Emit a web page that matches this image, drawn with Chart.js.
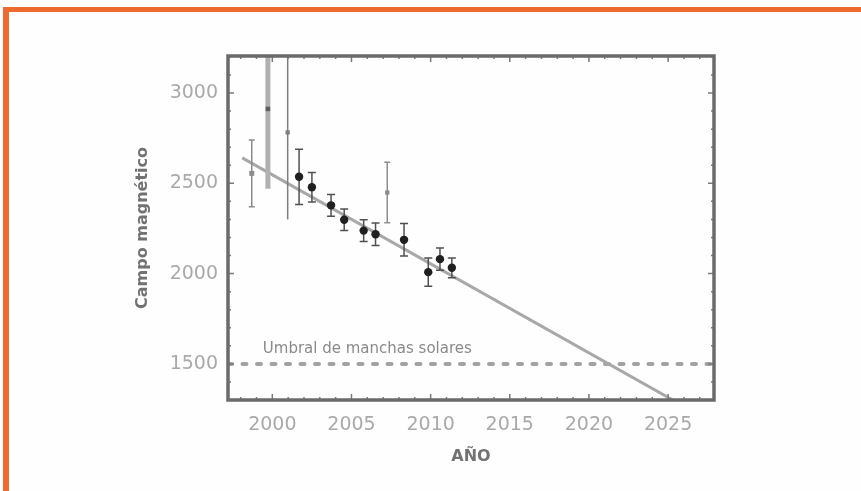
<!DOCTYPE html>
<html>
<head>
<meta charset="utf-8">
<script src="https://cdn.jsdelivr.net/npm/chart.js@4/dist/chart.umd.min.js"></script>
<style>
html, body { margin: 0; padding: 0; background: #ffffff; }
#wrap { position: relative; width: 861px; height: 491px; overflow: hidden; background: #fefefe; }
#c { position: absolute; left: 0; top: 0; }
#frame { position: absolute; left: 3px; top: 7px; right: -10px; bottom: -10px;
  border-top: 5px solid #ee6a2f; border-left: 6px solid #ee6a2f; pointer-events: none; }
</style>
</head>
<body>
<div id="wrap">
  <canvas id="c" width="861" height="491"></canvas>
  <div id="frame"></div>
</div>
<script>
// ---- data ----
const years       = [1998.7, 1999.72, 2000.97, 2001.69, 2002.5, 2003.71, 2004.54, 2005.77, 2006.52, 2007.26, 2008.32, 2009.85, 2010.59, 2011.34];
const fieldValues = [2555, 2912, 2782, 2536, 2478, 2378, 2298, 2238, 2218, 2449, 2187, 2008, 2080, 2032];
const fieldErrors = [185, 442, 482, 153, 82, 60, 60, 60, 62, 168, 90, 78, 62, 55];
const fitYears    = [1998.1, 2025.6];
const fitValues   = [2641, 1285];
const thresholdValue = 1500;
const thresholdLabel = 'Umbral de manchas solares';
const thresholdLabelYear = 1999.4;
const xTicks = [2000, 2005, 2010, 2015, 2020, 2025];
const yTicks = [1500, 2000, 2500, 3000];
const xMin = 1997.2, xMax = 2027.9;
const yMin = 1300, yMax = 3205;
const xTitle = 'AÑO';
const yTitle = 'Campo magnético';

// ---- styles (per point) ----
const markerColors = ['#8c8c8c','#5e5e5e','#7c7c7c','#202020','#202020','#202020','#202020','#202020','#202020','#8a8a8a','#202020','#202020','#202020','#202020'];
const markerShapes = ['rect','rect','rect','circle','circle','circle','circle','circle','circle','rect','circle','circle','circle','circle'];
const markerSizes  = [3.5, 3.2, 3, 4.2, 4.2, 4.2, 4.2, 4.2, 4.2, 3, 4.2, 4.2, 4.2, 4.2];
const barColors    = ['#8a8a8a','#b0b0b0','#7e7e7e','#505050','#505050','#505050','#505050','#505050','#505050','#8e8e8e','#505050','#505050','#505050','#505050'];
const barWidths    = [1.5, 5, 1.5, 1.5, 1.5, 1.5, 1.5, 1.5, 1.5, 1.5, 1.5, 1.5, 1.5, 1.5];
const capHalf      = [3, 0, 0, 4, 4, 4, 4, 4, 4, 3, 4, 4, 4, 4];

const pointsData = years.map((x, i) => ({ x: x, y: fieldValues[i] }));
const fitData = fitYears.map((x, i) => ({ x: x, y: fitValues[i] }));
const thresholdData = [{ x: xMin, y: thresholdValue }, { x: xMax, y: thresholdValue }];

const errorBarPlugin = {
  id: 'errorBars',
  beforeDatasetDraw(chart, args) {
    if (args.index !== 0) return;
    const { ctx, chartArea, scales } = chart;
    const xs = scales.x, ys = scales.y;
    ctx.save();
    ctx.beginPath();
    ctx.rect(chartArea.left, chartArea.top, chartArea.right - chartArea.left, chartArea.bottom - chartArea.top);
    ctx.clip();
    years.forEach((yr, i) => {
      const px = xs.getPixelForValue(yr);
      const top = ys.getPixelForValue(fieldValues[i] + fieldErrors[i]);
      const bot = ys.getPixelForValue(fieldValues[i] - fieldErrors[i]);
      ctx.strokeStyle = barColors[i];
      ctx.lineWidth = barWidths[i];
      ctx.beginPath();
      ctx.moveTo(px, top); ctx.lineTo(px, bot);
      ctx.stroke();
      if (capHalf[i] > 0) {
        ctx.lineWidth = 1.5;
        ctx.beginPath();
        ctx.moveTo(px - capHalf[i], top); ctx.lineTo(px + capHalf[i], top);
        ctx.moveTo(px - capHalf[i], bot); ctx.lineTo(px + capHalf[i], bot);
        ctx.stroke();
      }
    });
    ctx.restore();
  }
};

const frameAndLabelPlugin = {
  id: 'frameAndLabel',
  afterDatasetsDraw(chart) {
    const { ctx, chartArea, scales } = chart;
    const xs = scales.x, ys = scales.y;
    const { left, right, top, bottom } = chartArea;
    ctx.save();
    // threshold label
    ctx.font = '15px "DejaVu Sans"';
    ctx.fillStyle = '#8a8a8a';
    ctx.textAlign = 'left';
    ctx.textBaseline = 'middle';
    ctx.fillText(thresholdLabel, xs.getPixelForValue(thresholdLabelYear), ys.getPixelForValue(thresholdValue) - 15);
    // inner tick marks
    ctx.strokeStyle = '#7a7a7a';
    ctx.lineWidth = 1.5;
    ctx.beginPath();
    for (let v = Math.ceil(xMin); v <= xMax; v++) {
      const px = xs.getPixelForValue(v);
      const len = (v % 5 === 0) ? 6 : 3;
      ctx.moveTo(px, bottom); ctx.lineTo(px, bottom - len);
      ctx.moveTo(px, top); ctx.lineTo(px, top + len);
    }
    for (let v = Math.ceil(yMin / 100) * 100; v <= yMax; v += 100) {
      const py = ys.getPixelForValue(v);
      const len = (v % 500 === 0) ? 6 : 3;
      ctx.moveTo(left, py); ctx.lineTo(left + len, py);
      ctx.moveTo(right, py); ctx.lineTo(right - len, py);
    }
    ctx.stroke();
    // frame
    ctx.strokeStyle = '#6b6b6b';
    ctx.lineWidth = 3.5;
    ctx.strokeRect(left, top, right - left, bottom - top);
    ctx.restore();
  }
};

new Chart(document.getElementById('c'), {
  type: 'scatter',
  data: {
    datasets: [
      {
        label: 'Campo',
        data: pointsData,
        order: 0,
        pointStyle: markerShapes,
        pointRadius: markerSizes,
        backgroundColor: markerColors,
        borderColor: markerColors,
        borderWidth: 0
      },
      {
        label: 'Ajuste',
        type: 'line',
        data: fitData,
        order: 2,
        showLine: true,
        borderColor: '#a8a8a8',
        borderWidth: 3,
        pointRadius: 0,
        fill: false
      },
      {
        label: 'Umbral',
        type: 'line',
        data: thresholdData,
        order: 3,
        showLine: true,
        borderColor: '#a2a2a2',
        borderWidth: 4,
        borderDash: [4, 10.5],
        borderCapStyle: 'round',
        pointRadius: 0,
        fill: false
      }
    ]
  },
  options: {
    responsive: false,
    animation: false,
    devicePixelRatio: 1,
    layout: { padding: { left: 133, right: 147, top: 56, bottom: 25 } },
    plugins: { legend: { display: false }, tooltip: { enabled: false } },
    scales: {
      x: {
        type: 'linear',
        position: 'bottom',
        min: xMin,
        max: xMax,
        grid: { display: false, drawTicks: false },
        border: { display: false },
        afterBuildTicks: s => { s.ticks = xTicks.map(v => ({ value: v })); },
        afterFit: s => { s.height = 66; },
        ticks: {
          padding: 14,
          maxRotation: 0,
          autoSkip: false,
          color: '#a9a9a9',
          font: { family: '"DejaVu Sans"', size: 19 },
          callback: v => String(v)
        },
        title: {
          display: true,
          text: xTitle,
          color: '#727272',
          padding: 0,
          font: { family: '"DejaVu Sans"', size: 16, weight: 'bold' }
        }
      },
      y: {
        type: 'linear',
        position: 'left',
        min: yMin,
        max: yMax,
        grid: { display: false, drawTicks: false },
        border: { display: false },
        afterBuildTicks: s => { s.ticks = yTicks.map(v => ({ value: v })); },
        afterFit: s => { s.width = 95; },
        ticks: {
          padding: 10,
          autoSkip: false,
          color: '#a9a9a9',
          font: { family: '"DejaVu Sans"', size: 19 },
          callback: v => String(v)
        },
        title: {
          display: true,
          text: yTitle,
          color: '#727272',
          padding: 0,
          font: { family: '"DejaVu Sans"', size: 16, weight: 'bold' }
        }
      }
    }
  },
  plugins: [errorBarPlugin, frameAndLabelPlugin]
});
</script>
</body>
</html>
